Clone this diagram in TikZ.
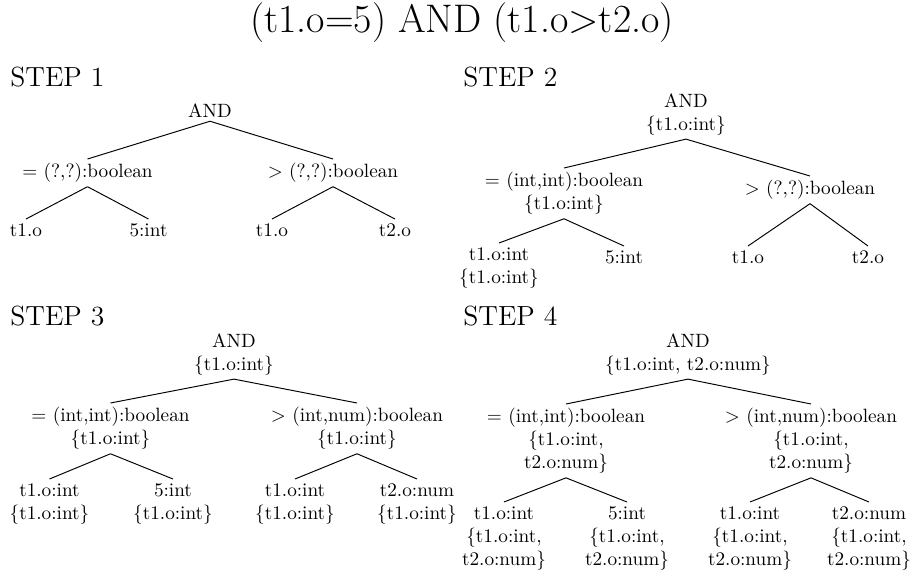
\documentclass[tikz,border=0pt]{standalone}
\usepackage{tikz}
\usetikzlibrary{positioning}
\tikzset{
  tnode/.style   = {anchor=north, align=center, inner sep=2pt, font=\normalsize},
  steplbl/.style = {anchor=base west, inner sep=0pt, font=\Large},
  ttl/.style     = {inner sep=0pt, font=\huge},
  branch/.style  = {line width=0.5pt, black},
}

\begin{document}
\begin{tikzpicture}[x=0.52pt, y=-0.52pt]
      \useasboundingbox (0,0) rectangle (915,569);

      \node[ttl] (title) at (462,23) {(t1.o=5) AND (t1.o>t2.o)};

      \node[steplbl] (s1) at (10,86)  {STEP 1};
      \node[steplbl] (s2) at (463,86) {STEP 2};
      \node[steplbl] (s3) at (10,325) {STEP 3};
      \node[steplbl] (s4) at (463,325) {STEP 4};

      % step 1
      \node[tnode] (a)   at (210,99)   {AND};
      \node[tnode] (al)  at (87.5,159) {$=$ (?,?):boolean};
      \node[tnode] (ar)  at (333,159)  {$>$ (?,?):boolean};
      \node[tnode] (all) at (26,219)   {t1.o};
      \node[tnode] (alr) at (148.5,219) {5:int};
      \node[tnode] (arl) at (272,219)  {t1.o};
      \node[tnode] (arr) at (395,219)  {t2.o};
      \draw[branch] (a.south) -- (al.north);  \draw[branch] (a.south) -- (ar.north);
      \draw[branch] (al.south) -- (all.north); \draw[branch] (al.south) -- (alr.north);
      \draw[branch] (ar.south) -- (arl.north); \draw[branch] (ar.south) -- (arr.north);

      % step 2
      \node[tnode] (b)   at (686,89)  {AND\\\{t1.o:int\}};
      \node[tnode] (bl)  at (564,168) {$=$ (int,int):boolean\\\{t1.o:int\}};
      \node[tnode] (br)  at (810,176) {$>$ (?,?):boolean};
      \node[tnode] (bll) at (499,243) {t1.o:int\\\{t1.o:int\}};
      \node[tnode] (blr) at (624,246) {5:int};
      \node[tnode] (brl) at (748,246) {t1.o};
      \node[tnode] (brr) at (868,246) {t2.o};
      \draw[branch] (b.south) -- (bl.north);  \draw[branch] (b.south) -- (br.north);
      \draw[branch] (bl.south) -- (bll.north); \draw[branch] (bl.south) -- (blr.north);
      \draw[branch] (br.south) -- (brl.north); \draw[branch] (br.south) -- (brr.north);

      % step 3
      \node[tnode] (c)   at (234,329) {AND\\\{t1.o:int\}};
      \node[tnode] (cl)  at (110.5,403) {$=$ (int,int):boolean\\\{t1.o:int\}};
      \node[tnode] (cr)  at (357,403) {$>$ (int,num):boolean\\\{t1.o:int\}};
      \node[tnode] (cll) at (49.5,479) {t1.o:int\\\{t1.o:int\}};
      \node[tnode] (clr) at (173,479) {5:int\\\{t1.o:int\}};
      \node[tnode] (crl) at (295,479) {t1.o:int\\\{t1.o:int\}};
      \node[tnode] (crr) at (417,479) {t2.o:num\\\{t1.o:int\}};
      \draw[branch] (c.south) -- (cl.north);  \draw[branch] (c.south) -- (cr.north);
      \draw[branch] (cl.south) -- (cll.north); \draw[branch] (cl.south) -- (clr.north);
      \draw[branch] (cr.south) -- (crl.north); \draw[branch] (cr.south) -- (crr.north);

      % step 4
      \node[tnode] (d)   at (688,329) {AND\\\{t1.o:int, t2.o:num\}};
      \node[tnode] (dl)  at (566,404) {$=$ (int,int):boolean\\\{t1.o:int,\\t2.o:num\}};
      \node[tnode] (dr)  at (811,404) {$>$ (int,num):boolean\\\{t1.o:int,\\t2.o:num\}};
      \node[tnode] (dll) at (504,502) {t1.o:int\\\{t1.o:int,\\t2.o:num\}};
      \node[tnode] (dlr) at (627,502) {5:int\\\{t1.o:int,\\t2.o:num\}};
      \node[tnode] (drl) at (750,502) {t1.o:int\\\{t1.o:int,\\t2.o:num\}};
      \node[tnode] (drr) at (869,502) {t2.o:num\\\{t1.o:int,\\t2.o:num\}};
      \draw[branch] (d.south) -- (dl.north);  \draw[branch] (d.south) -- (dr.north);
      \draw[branch] (dl.south) -- (dll.north); \draw[branch] (dl.south) -- (dlr.north);
      \draw[branch] (dr.south) -- (drl.north); \draw[branch] (dr.south) -- (drr.north);

\end{tikzpicture}
\end{document}
